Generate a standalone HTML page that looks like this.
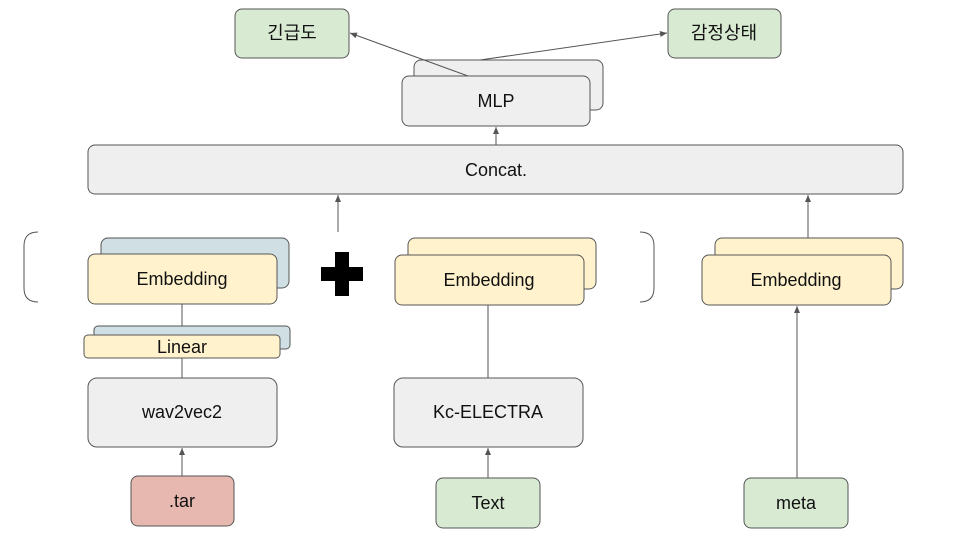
<!DOCTYPE html>
<html><head><meta charset="utf-8"><style>
html,body{margin:0;padding:0;background:#fff;width:960px;height:540px;overflow:hidden}
text{font-family:"Liberation Sans","Noto Sans CJK KR",sans-serif;font-size:18px;fill:#111;text-anchor:middle;dominant-baseline:central}
.g{fill:#efefef;stroke:#555;stroke-width:1}
.y{fill:#fff2cc;stroke:#555;stroke-width:1}
.b{fill:#d0dfe3;stroke:#555;stroke-width:1}
.gr{fill:#d9ead3;stroke:#555;stroke-width:1}
.r{fill:#e6b8af;stroke:#555;stroke-width:1}
.l{stroke:#555;stroke-width:1;fill:none}
</style></head><body>
<svg width="960" height="540" viewBox="0 0 960 540" xmlns="http://www.w3.org/2000/svg">
<defs><marker id="a" markerWidth="8" markerHeight="8" refX="7" refY="4" orient="auto" markerUnits="userSpaceOnUse"><path d="M0,1 L7,4 L0,7 z" fill="#555"/></marker></defs>

<rect class="gr" x="235" y="9" width="114" height="49" rx="7"/><text x="292" y="33">긴급도</text>
<rect class="gr" x="668" y="9" width="113" height="49" rx="7"/><text x="724" y="33">감정상태</text>

<rect class="g" x="414" y="60" width="189" height="50" rx="7"/>
<rect class="g" x="402" y="76" width="188" height="50" rx="7"/><text x="496" y="101">MLP</text>
<line class="l" x1="468" y1="76" x2="350" y2="33" marker-end="url(#a)"/>
<line class="l" x1="480" y1="60" x2="667" y2="33" marker-end="url(#a)"/>

<rect class="g" x="88" y="145" width="815" height="49" rx="7"/><text x="496" y="170">Concat.</text>
<line class="l" x1="496" y1="145" x2="496" y2="127" marker-end="url(#a)"/>
<line class="l" x1="338" y1="232" x2="338" y2="195" marker-end="url(#a)"/>
<line class="l" x1="808" y1="238" x2="808" y2="195" marker-end="url(#a)"/>

<path class="l" d="M38,232 Q24,232 24,246 L24,288 Q24,302 38,302"/>
<path class="l" d="M640,232 Q654,232 654,246 L654,288 Q654,302 640,302"/>

<rect class="b" x="101" y="238" width="188" height="50" rx="7"/>
<rect class="y" x="88" y="254" width="189" height="50" rx="7"/><text x="182" y="279">Embedding</text>
<line class="l" x1="182" y1="304" x2="182" y2="335"/>
<rect class="b" x="94" y="326" width="196" height="23" rx="4"/>
<rect class="y" x="84" y="335" width="196" height="23" rx="4"/><text x="182" y="347">Linear</text>
<line class="l" x1="182" y1="358" x2="182" y2="378"/>
<rect class="g" x="88" y="378" width="189" height="69" rx="9"/><text x="182" y="412">wav2vec2</text>
<line class="l" x1="182" y1="476" x2="182" y2="448" marker-end="url(#a)"/>
<rect class="r" x="131" y="476" width="103" height="50" rx="7"/><text x="182" y="501">.tar</text>

<path d="M335,252 h14 v15 h14 v14 h-14 v15 h-14 v-15 h-14 v-14 h14 z" fill="#000"/>

<rect class="y" x="408" y="238" width="188" height="51" rx="7"/>
<rect class="y" x="395" y="255" width="189" height="50" rx="7"/><text x="489" y="280">Embedding</text>
<line class="l" x1="488" y1="305" x2="488" y2="378"/>
<rect class="g" x="394" y="378" width="189" height="69" rx="9"/><text x="488" y="412">Kc-ELECTRA</text>
<line class="l" x1="488" y1="478" x2="488" y2="448" marker-end="url(#a)"/>
<rect class="gr" x="436" y="478" width="104" height="50" rx="7"/><text x="488" y="503">Text</text>

<rect class="y" x="715" y="238" width="188" height="51" rx="7"/>
<rect class="y" x="702" y="255" width="189" height="50" rx="7"/><text x="796" y="280">Embedding</text>
<line class="l" x1="797" y1="478" x2="797" y2="306" marker-end="url(#a)"/>
<rect class="gr" x="744" y="478" width="104" height="50" rx="7"/><text x="796" y="503">meta</text>
</svg>
</body></html>
